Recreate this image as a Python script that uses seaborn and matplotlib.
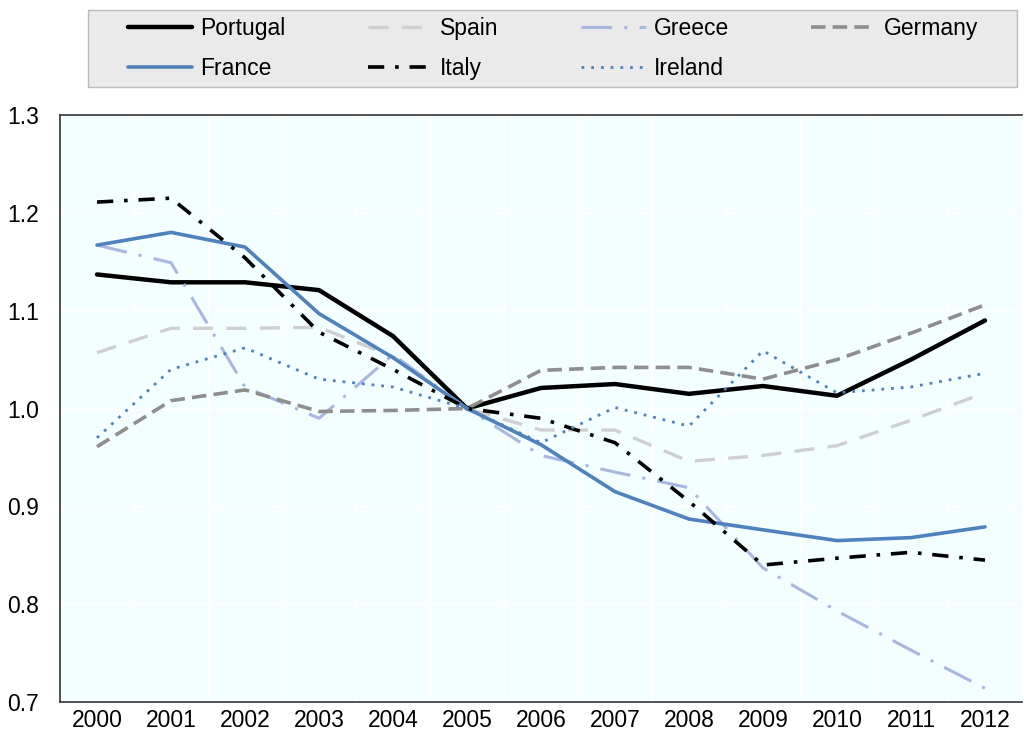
import pandas as pd
import matplotlib
matplotlib.use("Agg")
import matplotlib.pyplot as plt
from matplotlib.patches import Rectangle
import seaborn as sns

years = [str(y) for y in range(2000, 2013)]

portugal = [1.137, 1.129, 1.129, 1.121, 1.074, 1.000, 1.021, 1.025, 1.015, 1.023, 1.013, 1.050, 1.090]
spain = [1.057, 1.082, 1.082, 1.083, 1.053, 1.000, 0.978, 0.978, 0.946, 0.952, 0.962, 0.988, 1.016]
greece = [1.167, 1.149, 1.022, 0.990, 1.055, 1.000, 0.952, 0.935, 0.919, 0.837, 0.793, 0.753, 0.714]
germany = [0.961, 1.008, 1.019, 0.997, 0.998, 1.000, 1.039, 1.042, 1.042, 1.030, 1.050, 1.077, 1.106]
france = [1.167, 1.180, 1.165, 1.097, 1.052, 1.000, 0.963, 0.915, 0.887, 0.876, 0.865, 0.868, 0.879]
italy = [1.211, 1.215, 1.154, 1.078, 1.040, 1.000, 0.990, 0.965, 0.905, 0.840, 0.847, 0.853, 0.845]
ireland = [0.970, 1.040, 1.062, 1.030, 1.022, 1.000, 0.965, 1.001, 0.982, 1.059, 1.016, 1.022, 1.036]

series = {
    "Portugal": portugal,
    "Spain": spain,
    "Greece": greece,
    "Germany": germany,
    "France": france,
    "Italy": italy,
    "Ireland": ireland,
}

# colour, width, dash pattern (None = solid)
styles = {
    "Portugal": ("#000000", 3.2, None),
    "Spain": ("#CFCFCF", 2.4, (6, 4)),
    "Greece": ("#A7B7E0", 2.2, (10, 4, 1, 4)),
    "Germany": ("#8E8E8E", 2.6, (4, 2)),
    "France": ("#4F81BD", 2.6, None),
    "Italy": ("#000000", 2.6, (4.5, 3, 1, 3)),
    "Ireland": ("#4F81BD", 2.0, (1, 2.5)),
}

rows = []
for name, vals in series.items():
    for i, v in enumerate(vals):
        rows.append({"country": name, "x": i, "value": v})
df = pd.DataFrame(rows)

sns.set_style("white")
plt.rcParams["font.family"] = ["Liberation Sans Narrow", "Liberation Sans", "DejaVu Sans"]
plt.rcParams["text.color"] = "black"
plt.rcParams["xtick.color"] = "black"
plt.rcParams["ytick.color"] = "black"

fig = plt.figure(figsize=(10.24, 7.33), dpi=100)
ax = fig.add_axes([60 / 1024, 1 - 702 / 733, 962 / 1024, (702 - 115) / 733])
ax.set_facecolor("#F3FFFF")

lines = {}
for name in series:
    color, lw, dash = styles[name]
    sub = df[df["country"] == name]
    sns.lineplot(data=sub, x="x", y="value", ax=ax, color=color, linewidth=lw,
                 label=name, legend=False)
    line = ax.lines[-1]
    if dash is not None:
        line.set_dashes(dash)
    lines[name] = line

ax.set_xlim(-0.5, 12.5)
ax.set_ylim(0.7, 1.3)
ax.set_xticks(range(len(years)))
ax.set_xticklabels(years)
ax.set_xticks([i + 0.5 for i in range(12)], minor=True)
ax.tick_params(axis="x", which="major", length=0, labelsize=16.5, pad=5)
ax.tick_params(axis="x", which="minor", direction="in", length=6, color="#333333")
ax.set_yticks([0.7, 0.8, 0.9, 1.0, 1.1, 1.2, 1.3])
ax.set_yticklabels(["0.7", "0.8", "0.9", "1.0", "1.1", "1.2", "1.3"])
ax.tick_params(axis="y", direction="in", length=6, labelsize=16.5, pad=15, color="#333333")
ax.grid(True, axis="y", color="white", linewidth=1)
ax.grid(True, axis="x", which="minor", color="white", linewidth=1)
ax.set_xlabel("")
ax.set_ylabel("")

for side in ["left", "bottom", "top"]:
    ax.spines[side].set_color("#333333")
    ax.spines[side].set_linewidth(1.2)
ax.spines["right"].set_visible(False)

# legend box drawn separately, entries laid out row by row
fig.patches.append(Rectangle((88 / 1024, 1 - 87 / 733), 929 / 1024, 77 / 733,
                             transform=fig.transFigure, facecolor="#EAEAEA",
                             edgecolor="#BBBBBB", linewidth=1, zorder=0))
order = ["Portugal", "France", "Spain", "Italy", "Greece", "Ireland", "Germany"]
leg = fig.legend([lines[n] for n in order], order, ncol=4, loc="center",
                 bbox_to_anchor=(128 / 1024, 1 - 87 / 733, 850 / 1024, 77 / 733),
                 mode="expand", frameon=False, fontsize=16.5,
                 handlelength=2.8, handletextpad=0.35,
                 borderaxespad=0, borderpad=0, labelspacing=0.7)

fig.savefig("out.png", dpi=100, facecolor="white")
